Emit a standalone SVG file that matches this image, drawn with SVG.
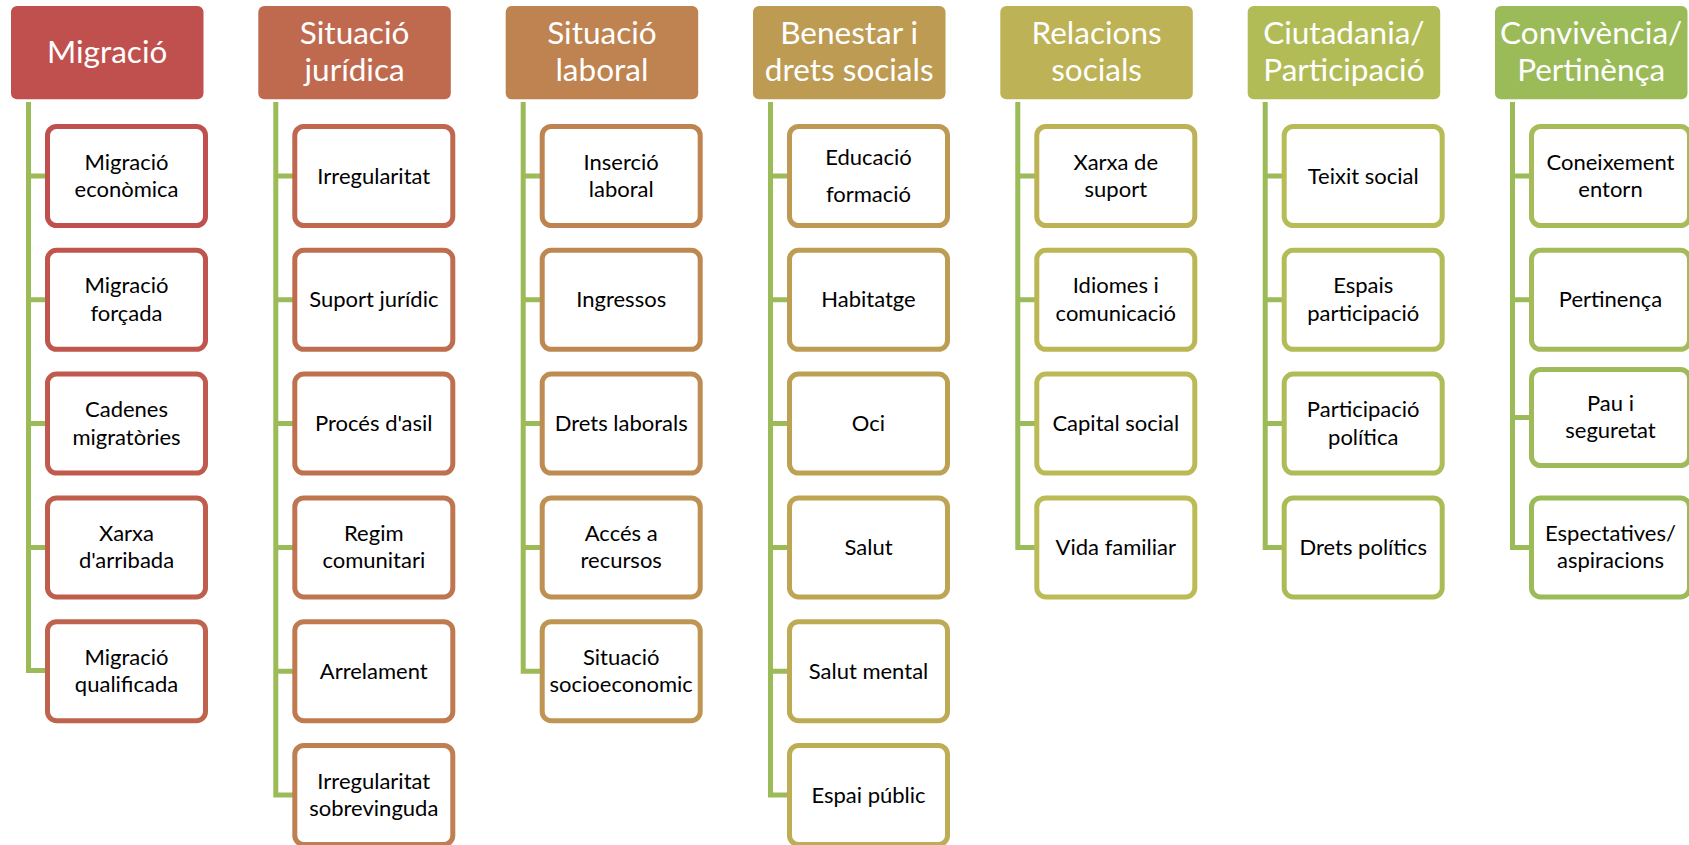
<svg xmlns="http://www.w3.org/2000/svg" width="1689" height="845" viewBox="0 0 1689 845">
<style>
.hd{stroke:none}
.bx{fill:#fff;stroke-width:5}
.h{font-family:Lato,"Liberation Sans",sans-serif;font-size:31.5px;fill:#fff;text-anchor:middle}
.t{font-family:Lato,"Liberation Sans",sans-serif;font-size:22px;fill:#000;text-anchor:middle}
.cn{fill:none;stroke:#9BBB59;stroke-width:5;stroke-linejoin:miter}
</style>
<rect width="1689" height="845" fill="#fff"/>
<g id="connectors" class="cn">
<path d="M28.5,102V670.5H47.5M28.5,176H47.5M28.5,299.8H47.5M28.5,423.6H47.5M28.5,547.4H47.5"/>
<path d="M275.8,102V795H294.8M275.8,176H294.8M275.8,299.8H294.8M275.8,423.6H294.8M275.8,547.4H294.8M275.8,671.2H294.8"/>
<path d="M523.2,102V671.2H542.2M523.2,176H542.2M523.2,299.8H542.2M523.2,423.6H542.2M523.2,547.4H542.2"/>
<path d="M770.5,102V795H789.5M770.5,176H789.5M770.5,299.8H789.5M770.5,423.6H789.5M770.5,547.4H789.5M770.5,671.2H789.5"/>
<path d="M1017.8,102V547.4H1036.8M1017.8,176H1036.8M1017.8,299.8H1036.8M1017.8,423.6H1036.8"/>
<path d="M1265.2,102V547.4H1284.2M1265.2,176H1284.2M1265.2,299.8H1284.2M1265.2,423.6H1284.2"/>
<path d="M1512.5,102V547.4H1531.5M1512.5,176H1531.5M1512.5,299.8H1531.5M1512.5,417.5H1531.5"/>
</g>

<g id="h0"><rect class="hd" x="11" y="6" width="192.5" height="93.3" rx="6" fill="#C0504D"/><text class="h" x="107.2" y="63.3">Migració</text></g>
<g id="h1"><rect class="hd" x="258.3" y="6" width="192.5" height="93.3" rx="6" fill="#BF6A4F"/><text class="h" x="354.6" y="44.3">Situació</text><text class="h" x="354.6" y="81">jurídica</text></g>
<g id="h2"><rect class="hd" x="505.7" y="6" width="192.5" height="93.3" rx="6" fill="#BE8351"/><text class="h" x="601.9" y="44.3">Situació</text><text class="h" x="601.9" y="81">laboral</text></g>
<g id="h3"><rect class="hd" x="753" y="6" width="192.5" height="93.3" rx="6" fill="#BD9B53"/><text class="h" x="849.2" y="44.3">Benestar i</text><text class="h" x="849.2" y="81">drets socials</text></g>
<g id="h4"><rect class="hd" x="1000.3" y="6" width="192.5" height="93.3" rx="6" fill="#BDB255"/><text class="h" x="1096.6" y="44.3">Relacions</text><text class="h" x="1096.6" y="81">socials</text></g>
<g id="h5"><rect class="hd" x="1247.7" y="6" width="192.5" height="93.3" rx="6" fill="#B1BC57"/><text class="h" x="1343.9" y="44.3">Ciutadania/</text><text class="h" x="1343.9" y="81">Participació</text></g>
<g id="h6"><rect class="hd" x="1495" y="6" width="192.5" height="93.3" rx="6" fill="#9BBB59"/><text class="h" x="1591.2" y="44.3">Convivència/</text><text class="h" x="1591.2" y="81">Pertinènça</text></g>

<!-- column 0 -->
<g id="n0_0"><rect class="bx" x="47.5" y="126.5" width="158" height="99" rx="9" stroke="#C0504D"/><text class="t" x="126.5" y="169.5">Migració</text><text class="t" x="126.5" y="197">econòmica</text></g>
<g id="n0_1"><rect class="bx" x="47.5" y="250.3" width="158" height="99" rx="9" stroke="#C0554D"/><text class="t" x="126.5" y="293.3">Migració</text><text class="t" x="126.5" y="320.8">forçada</text></g>
<g id="n0_2"><rect class="bx" x="47.5" y="374.1" width="158" height="99" rx="9" stroke="#C05A4E"/><text class="t" x="126.5" y="417.1">Cadenes</text><text class="t" x="126.5" y="444.6">migratòries</text></g>
<g id="n0_3"><rect class="bx" x="47.5" y="497.9" width="158" height="99" rx="9" stroke="#C05E4E"/><text class="t" x="126.5" y="540.9">Xarxa</text><text class="t" x="126.5" y="568.4">d'arribada</text></g>
<g id="n0_4"><rect class="bx" x="47.5" y="621.7" width="158" height="99" rx="9" stroke="#BF634E"/><text class="t" x="126.5" y="664.7">Migració</text><text class="t" x="126.5" y="692.2">qualificada</text></g>

<!-- column 1 -->
<g id="n1_0"><rect class="bx" x="294.8" y="126.5" width="158" height="99" rx="9" stroke="#BF684F"/><text class="t" x="373.8" y="183.5">Irregularitat</text></g>
<g id="n1_1"><rect class="bx" x="294.8" y="250.3" width="158" height="99" rx="9" stroke="#BF6D4F"/><text class="t" x="373.8" y="307.3">Suport jurídic</text></g>
<g id="n1_2"><rect class="bx" x="294.8" y="374.1" width="158" height="99" rx="9" stroke="#BF714F"/><text class="t" x="373.8" y="431.1">Procés d'asil</text></g>
<g id="n1_3"><rect class="bx" x="294.8" y="497.9" width="158" height="99" rx="9" stroke="#BF7650"/><text class="t" x="373.8" y="540.9">Regim</text><text class="t" x="373.8" y="568.4">comunitari</text></g>
<g id="n1_4"><rect class="bx" x="294.8" y="621.7" width="158" height="99" rx="9" stroke="#BF7A50"/><text class="t" x="373.8" y="678.7">Arrelament</text></g>
<g id="n1_5"><rect class="bx" x="294.8" y="745.5" width="158" height="99" rx="9" stroke="#BE7F51"/><text class="t" x="373.8" y="788.5">Irregularitat</text><text class="t" x="373.8" y="816">sobrevinguda</text></g>

<!-- column 2 -->
<g id="n2_0"><rect class="bx" x="542.2" y="126.5" width="158" height="99" rx="9" stroke="#BE8351"/><text class="t" x="621.2" y="169.5">Inserció</text><text class="t" x="621.2" y="197">laboral</text></g>
<g id="n2_1"><rect class="bx" x="542.2" y="250.3" width="158" height="99" rx="9" stroke="#BE8851"/><text class="t" x="621.2" y="307.3">Ingressos</text></g>
<g id="n2_2"><rect class="bx" x="542.2" y="374.1" width="158" height="99" rx="9" stroke="#BE8C52"/><text class="t" x="621.2" y="431.1">Drets laborals</text></g>
<g id="n2_3"><rect class="bx" x="542.2" y="497.9" width="158" height="99" rx="9" stroke="#BE9052"/><text class="t" x="621.2" y="540.9">Accés a</text><text class="t" x="621.2" y="568.4">recursos</text></g>
<g id="n2_4"><rect class="bx" x="542.2" y="621.7" width="158" height="99" rx="9" stroke="#BE9552"/><text class="t" x="621.2" y="664.7">Situació</text><text class="t" x="621.2" y="692.2">socioeconomic</text></g>

<!-- column 3 -->
<g id="n3_0"><rect class="bx" x="789.5" y="126.5" width="158" height="99" rx="9" stroke="#BE9953"/><text class="t" x="868.5" y="165">Educació</text><text class="t" x="868.5" y="201.7">formació</text></g>
<g id="n3_1"><rect class="bx" x="789.5" y="250.3" width="158" height="99" rx="9" stroke="#BD9D53"/><text class="t" x="868.5" y="307.3">Habitatge</text></g>
<g id="n3_2"><rect class="bx" x="789.5" y="374.1" width="158" height="99" rx="9" stroke="#BDA153"/><text class="t" x="868.5" y="431.1">Oci</text></g>
<g id="n3_3"><rect class="bx" x="789.5" y="497.9" width="158" height="99" rx="9" stroke="#BDA554"/><text class="t" x="868.5" y="554.9">Salut</text></g>
<g id="n3_4"><rect class="bx" x="789.5" y="621.7" width="158" height="99" rx="9" stroke="#BDAA54"/><text class="t" x="868.5" y="678.7">Salut mental</text></g>
<g id="n3_5"><rect class="bx" x="789.5" y="745.5" width="158" height="99" rx="9" stroke="#BDAE55"/><text class="t" x="868.5" y="802.5">Espai públic</text></g>

<!-- column 4 -->
<g id="n4_0"><rect class="bx" x="1036.8" y="126.5" width="158" height="99" rx="9" stroke="#BDB255"/><text class="t" x="1115.8" y="169.5">Xarxa de</text><text class="t" x="1115.8" y="197">suport</text></g>
<g id="n4_1"><rect class="bx" x="1036.8" y="250.3" width="158" height="99" rx="9" stroke="#BDB655"/><text class="t" x="1115.8" y="293.3">Idiomes i</text><text class="t" x="1115.8" y="320.8">comunicació</text></g>
<g id="n4_2"><rect class="bx" x="1036.8" y="374.1" width="158" height="99" rx="9" stroke="#BCBA56"/><text class="t" x="1115.8" y="431.1">Capital social</text></g>
<g id="n4_3"><rect class="bx" x="1036.8" y="497.9" width="158" height="99" rx="9" stroke="#BBBC56"/><text class="t" x="1115.8" y="554.9">Vida familiar</text></g>

<!-- column 5 -->
<g id="n5_0"><rect class="bx" x="1284.2" y="126.5" width="158" height="99" rx="9" stroke="#B7BC56"/><text class="t" x="1363.2" y="183.5">Teixit social</text></g>
<g id="n5_1"><rect class="bx" x="1284.2" y="250.3" width="158" height="99" rx="9" stroke="#B3BC57"/><text class="t" x="1363.2" y="293.3">Espais</text><text class="t" x="1363.2" y="320.8">participació</text></g>
<g id="n5_2"><rect class="bx" x="1284.2" y="374.1" width="158" height="99" rx="9" stroke="#AFBC57"/><text class="t" x="1363.2" y="417.1">Participació</text><text class="t" x="1363.2" y="444.6">política</text></g>
<g id="n5_3"><rect class="bx" x="1284.2" y="497.9" width="158" height="99" rx="9" stroke="#ABBC57"/><text class="t" x="1363.2" y="554.9">Drets polítics</text></g>

<!-- column 6 -->
<g id="n6_0"><rect class="bx" x="1531.5" y="126.5" width="158" height="99" rx="9" stroke="#A7BB58"/><text class="t" x="1610.5" y="169.5">Coneixement</text><text class="t" x="1610.5" y="197">entorn</text></g>
<g id="n6_1"><rect class="bx" x="1531.5" y="250.3" width="158" height="99" rx="9" stroke="#A3BB58"/><text class="t" x="1610.5" y="307.3">Pertinença</text></g>
<g id="n6_2"><rect class="bx" x="1531.5" y="369.5" width="158" height="96" rx="9" stroke="#9FBB59"/><text class="t" x="1610.5" y="410.5">Pau i</text><text class="t" x="1610.5" y="438">seguretat</text></g>
<g id="n6_3"><rect class="bx" x="1531.5" y="497.9" width="158" height="99" rx="9" stroke="#9BBB59"/><text class="t" x="1610.5" y="540.9">Espectatives/</text><text class="t" x="1610.5" y="568.4">aspiracions</text></g>
</svg>
